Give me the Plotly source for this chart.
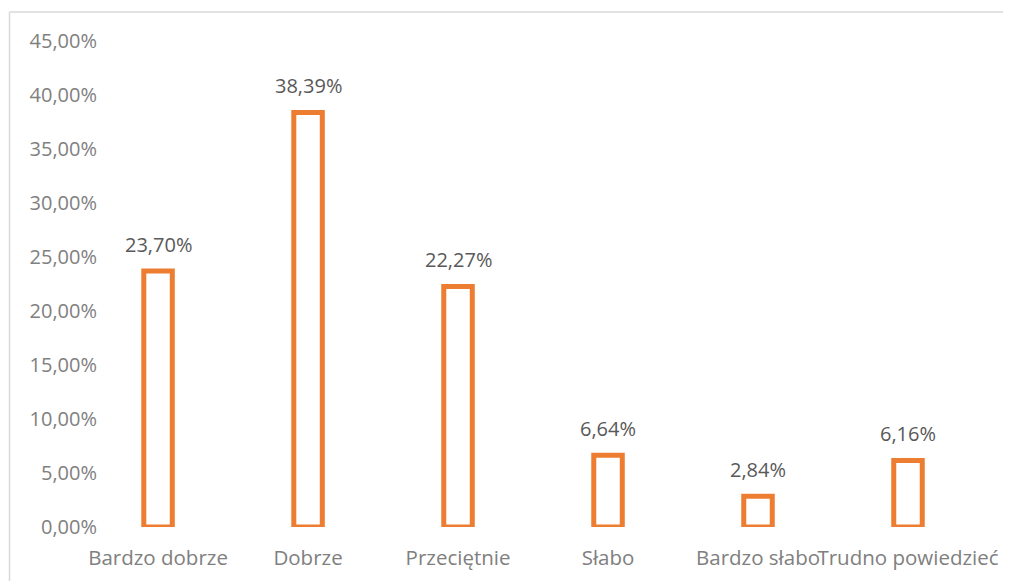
import plotly.graph_objects as go

categories = ["Bardzo dobrze", "Dobrze", "Przeciętnie", "Słabo", "Bardzo słabo", "Trudno powiedzieć"]
values = [0.2370, 0.3839, 0.2227, 0.0664, 0.0284, 0.0616]
tick_vals = [0, 0.05, 0.10, 0.15, 0.20, 0.25, 0.30, 0.35, 0.40, 0.45]

OFF = 8  # default page body margin
W, H = 1011 - OFF, 581 - OFF
L, R, T, B = 100 - OFF, 28, 41 - OFF, 54
pw, ph = W - L - R, H - T - B

def px_x(p):
    return (p - OFF - L) / pw

def px_y(p):
    return (H - B - (p - OFF)) / ph

fig = go.Figure(go.Bar(
    x=categories, y=values, width=0.19,
    marker=dict(color="rgba(0,0,0,0)", line=dict(color="#ED7D31", width=5)),
))

for c, v in zip(categories, values):
    fig.add_annotation(
        x=c, y=v, text=f"{v * 100:.2f}%".replace(".", ","),
        showarrow=False, yanchor="bottom", yshift=11,
        font=dict(family="Open Sans", size=20, color="#595959"),
    )

fig.update_layout(
    width=W, height=H, margin=dict(l=L, r=R, t=T, b=B),
    paper_bgcolor="white", plot_bgcolor="white",
    separators=", ", showlegend=False,
    font=dict(family="Open Sans", size=20, color="#808080"),
    xaxis=dict(range=[-0.387, 5.5], showgrid=False, zeroline=False, showline=False,
               ticks="", tickangle=0, automargin=False,
               tickfont=dict(size=20.5, color="#808080"), ticklabelstandoff=16),
    yaxis=dict(range=[0, 0.45], tickvals=tick_vals, tickformat=".2%", showgrid=False,
               zeroline=False, showline=False, ticks="", automargin=False,
               tickfont=dict(size=20, color="#808080"), ticklabelstandoff=2),
    shapes=[
        dict(type="line", xref="paper", yref="paper", x0=px_x(9.5), x1=px_x(1011), y0=px_y(12), y1=px_y(12),
             line=dict(color="#d9d9d9", width=1.5)),
        dict(type="line", xref="paper", yref="paper", x0=px_x(9.5), x1=px_x(9.5), y0=px_y(12), y1=px_y(581),
             line=dict(color="#d9d9d9", width=1.5)),
    ],
)

fig.write_html("out.html")
